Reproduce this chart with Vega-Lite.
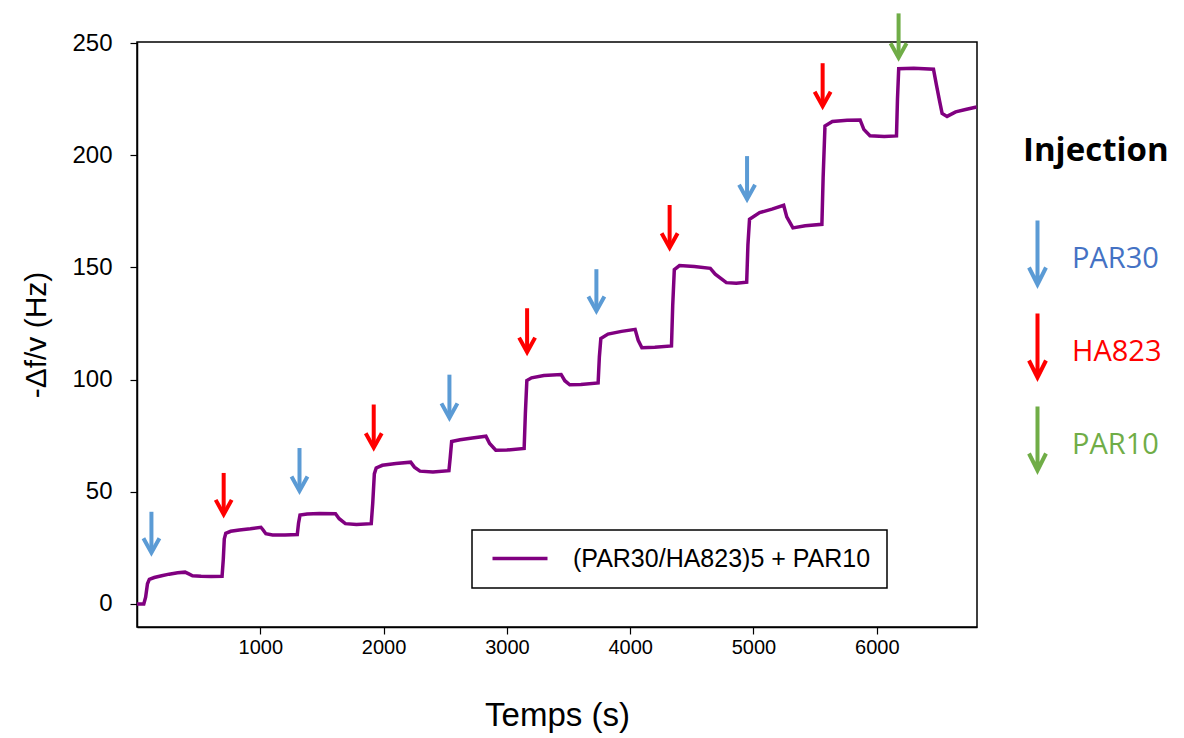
{
  "$schema": "https://vega.github.io/schema/vega-lite/v6.json",
  "width": 840,
  "height": 585,
  "autosize": {"type": "none"},
  "padding": {"left": 137, "top": 42, "right": 207, "bottom": 111},
  "background": "white",
  "config": {
    "view": {"stroke": "#000", "strokeWidth": 1.5},
    "font": "Liberation Sans",
    "axis": {
      "domainColor": "#000", "domainWidth": 1.5, "tickColor": "#000", "tickWidth": 1.2, "tickSize": 7,
      "labelColor": "#000", "titleColor": "#000", "grid": false,
      "labelFont": "Liberation Sans", "titleFont": "Liberation Sans", "titleFontWeight": "normal"
    }
  },
  "datasets": {
    "trace": [
      {"t": 0, "v": 0}, {"t": 55, "v": 0}, {"t": 70, "v": 3}, {"t": 85, "v": 9}, {"t": 100, "v": 11},
      {"t": 140, "v": 11.8}, {"t": 200, "v": 12.6}, {"t": 260, "v": 13.3}, {"t": 330, "v": 13.9}, {"t": 390, "v": 14.2},
      {"t": 420, "v": 13.4}, {"t": 450, "v": 12.6}, {"t": 520, "v": 12.4}, {"t": 600, "v": 12.3}, {"t": 690, "v": 12.4},
      {"t": 700, "v": 20}, {"t": 708, "v": 29}, {"t": 720, "v": 31.5}, {"t": 760, "v": 32.4}, {"t": 830, "v": 33},
      {"t": 920, "v": 33.5}, {"t": 1005, "v": 34.2}, {"t": 1020, "v": 33.2}, {"t": 1045, "v": 31.3}, {"t": 1100, "v": 30.8},
      {"t": 1200, "v": 30.8}, {"t": 1300, "v": 31}, {"t": 1310, "v": 36}, {"t": 1322, "v": 39.6}, {"t": 1380, "v": 40.1},
      {"t": 1480, "v": 40.3}, {"t": 1610, "v": 40.2}, {"t": 1640, "v": 38}, {"t": 1690, "v": 35.8}, {"t": 1780, "v": 35.4},
      {"t": 1900, "v": 35.8}, {"t": 1912, "v": 45}, {"t": 1925, "v": 58}, {"t": 1940, "v": 60.6}, {"t": 1990, "v": 61.8},
      {"t": 2100, "v": 62.6}, {"t": 2220, "v": 63.2}, {"t": 2250, "v": 61}, {"t": 2295, "v": 59.2}, {"t": 2400, "v": 58.8},
      {"t": 2530, "v": 59.4}, {"t": 2540, "v": 65}, {"t": 2552, "v": 72.4}, {"t": 2620, "v": 73.2}, {"t": 2720, "v": 74},
      {"t": 2830, "v": 74.8}, {"t": 2860, "v": 71.5}, {"t": 2910, "v": 68.5}, {"t": 3000, "v": 68.6}, {"t": 3140, "v": 69.3},
      {"t": 3150, "v": 85}, {"t": 3162, "v": 99.6}, {"t": 3200, "v": 100.8}, {"t": 3300, "v": 101.8}, {"t": 3440, "v": 102.3},
      {"t": 3470, "v": 99.5}, {"t": 3510, "v": 97.7}, {"t": 3600, "v": 97.8}, {"t": 3740, "v": 98.5}, {"t": 3750, "v": 110},
      {"t": 3762, "v": 118.3}, {"t": 3820, "v": 120.3}, {"t": 3930, "v": 121.5}, {"t": 4040, "v": 122.4}, {"t": 4065, "v": 117.5},
      {"t": 4095, "v": 114.2}, {"t": 4200, "v": 114.4}, {"t": 4335, "v": 115}, {"t": 4345, "v": 133}, {"t": 4358, "v": 149},
      {"t": 4400, "v": 150.8}, {"t": 4520, "v": 150.4}, {"t": 4650, "v": 149.6}, {"t": 4690, "v": 147}, {"t": 4780, "v": 143.2},
      {"t": 4860, "v": 142.9}, {"t": 4945, "v": 143.4}, {"t": 4955, "v": 160}, {"t": 4968, "v": 171.5}, {"t": 5050, "v": 174.4},
      {"t": 5150, "v": 176}, {"t": 5245, "v": 177.7}, {"t": 5270, "v": 172.5}, {"t": 5320, "v": 167.6}, {"t": 5420, "v": 168.6},
      {"t": 5555, "v": 169.2}, {"t": 5565, "v": 190}, {"t": 5580, "v": 213}, {"t": 5640, "v": 215}, {"t": 5760, "v": 215.6},
      {"t": 5865, "v": 215.7}, {"t": 5895, "v": 211.5}, {"t": 5945, "v": 208.7}, {"t": 6060, "v": 208.3}, {"t": 6160, "v": 208.6},
      {"t": 6168, "v": 225}, {"t": 6178, "v": 238.5}, {"t": 6300, "v": 238.7}, {"t": 6460, "v": 238.3}, {"t": 6485, "v": 231},
      {"t": 6510, "v": 224}, {"t": 6530, "v": 218.6}, {"t": 6570, "v": 217.3}, {"t": 6640, "v": 219.3}, {"t": 6720, "v": 220.4},
      {"t": 6810, "v": 221.5}
    ],
    "injections": [
      {"t": 117, "top": 41.1, "tip": 21.1, "kind": "PAR30"},
      {"t": 703, "top": 58.4, "tip": 38.2, "kind": "HA823"},
      {"t": 1318, "top": 69.5, "tip": 48.6, "kind": "PAR30"},
      {"t": 1920, "top": 88.9, "tip": 67.9, "kind": "HA823"},
      {"t": 2534, "top": 102.2, "tip": 81.2, "kind": "PAR30"},
      {"t": 3164, "top": 131.8, "tip": 110.5, "kind": "HA823"},
      {"t": 3726, "top": 149.2, "tip": 128.8, "kind": "PAR30"},
      {"t": 4320, "top": 177.8, "tip": 157, "kind": "HA823"},
      {"t": 4948, "top": 199.6, "tip": 178.6, "kind": "PAR30"},
      {"t": 5561, "top": 241, "tip": 220.1, "kind": "HA823"},
      {"t": 6177, "top": 263.2, "tip": 241.7, "kind": "PAR10"}
    ]
  },
  "layer": [
    {
      "data": {"name": "trace"},
      "mark": {"type": "line", "strokeWidth": 3.5, "clip": true, "strokeJoin": "miter"},
      "encoding": {
        "x": {
          "field": "t", "type": "quantitative",
          "scale": {"domain": [0, 6813], "nice": false, "zero": false},
          "axis": {"title": "Temps (s)", "values": [1000, 2000, 3000, 4000, 5000, 6000], "format": "d",
                   "labelFontSize": 20, "labelPadding": 3, "titleFontSize": 33, "titlePadding": 42}
        },
        "y": {
          "field": "v", "type": "quantitative",
          "scale": {"domain": [-10.25, 250.45], "nice": false, "zero": false},
          "axis": {"title": "-Δf/v (Hz)", "values": [0, 50, 100, 150, 200, 250], "format": "d",
                   "labelFontSize": 24, "labelPadding": 18, "titleFontSize": 30, "titlePadding": 20}
        },
        "color": {
          "datum": "(PAR30/HA823)5 + PAR10",
          "scale": {"range": ["#800080"]},
          "legend": {
            "orient": "none", "legendX": 335, "legendY": 488, "title": null, "direction": "vertical",
            "padding": 16, "strokeColor": "#000", "fillColor": "#fff",
            "symbolType": "M-0.8,0L4.7,0", "symbolSize": 400, "symbolStrokeWidth": 3.5,
            "labelFont": "Liberation Sans", "labelFontSize": 25, "labelOffset": 60, "labelColor": "#000", "labelLimit": 800,
            "encode": {"legend": {"update": {"strokeWidth": {"value": 1.5}}}}
          }
        }
      }
    },
    {
      "data": {"name": "injections"},
      "layer": [
        {
          "mark": {"type": "rule", "strokeWidth": 4, "clip": false, "y2Offset": -6},
          "encoding": {
            "x": {"field": "t", "type": "quantitative"},
            "y": {"field": "top", "type": "quantitative"},
            "y2": {"field": "tip"},
            "stroke": {
              "field": "kind", "type": "nominal",
              "scale": {"domain": ["PAR30", "HA823", "PAR10"], "range": ["#5B9BD5", "#FF0000", "#70AD47"]},
              "legend": {
                "title": "Injection", "orient": "none", "legendX": 886, "legendY": 93, "direction": "vertical", "padding": 0,
                "titleFont": "Open Sans", "titleFontSize": 33, "titleFontWeight": "bold", "titleColor": "#000", "titlePadding": 76,
                "titleAnchor": "start",
                "symbolType": "M0,-3.8L0,2.4M-0.85,0.9L0,2.6L0.85,0.9", "symbolSize": 400, "symbolStrokeWidth": 4,
                "symbolFillColor": "transparent",
                "labelFont": "Open Sans", "labelFontSize": 29, "labelOffset": 20, "rowPadding": 12,
                "encode": {
                  "labels": {"update": {"fill": {"signal": "datum.value === 'PAR30' ? '#4472C4' : scale('stroke', datum.value)"}}},
                  "symbols": {"update": {"stroke": {"signal": "datum.value === 'PAR30' ? '#4472C4' : scale('stroke', datum.value)"}, "strokeJoin": {"value": "miter"}}}
                }
              }
            }
          }
        },
        {
          "mark": {"type": "point", "shape": "M-1,-1.8L0,0L1,-1.8", "size": 256, "strokeWidth": 4, "filled": false,
                   "opacity": 1, "strokeJoin": "miter", "yOffset": -4, "clip": false},
          "encoding": {
            "x": {"field": "t", "type": "quantitative"},
            "y": {"field": "tip", "type": "quantitative"},
            "stroke": {"field": "kind", "type": "nominal"}
          }
        }
      ]
    }
  ]
}
